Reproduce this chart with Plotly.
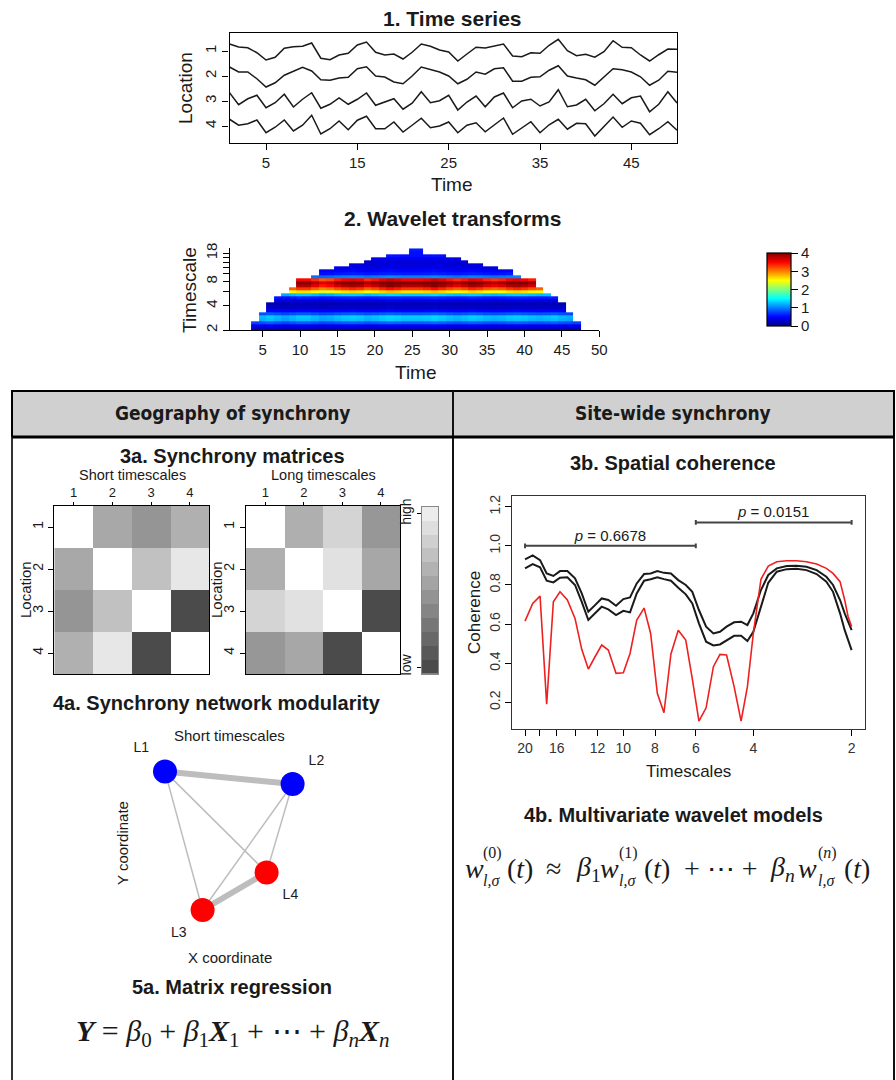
import math
import plotly.graph_objects as go

W, H = 896, 1080
def P(x): return x / W
def Q(y): return 1 - y / H

# ---------------- data ----------------
time = list(range(1, 51))
locations = [1, 2, 3, 4]
s1 = [0.28,0.16,0.13,-0.07,-0.36,-0.25,0.11,0.17,0.19,0.32,-0.29,-0.35,-0.16,-0.09,0.24,0.36,-0.05,-0.16,-0.12,-0.32,
      -0.05,0.28,0.19,0.04,-0.04,-0.40,-0.12,0.15,0.12,0.21,0.28,-0.20,-0.23,-0.07,-0.09,0.23,0.47,0.01,-0.19,-0.13,
      -0.25,-0.03,0.41,0.15,0.13,-0.16,-0.40,-0.15,0.08,0.07]
s2 = [0.36,0.16,0.16,-0.11,-0.44,-0.27,0.03,0.20,0.35,0.20,-0.15,-0.17,-0.08,-0.05,0.29,0.37,0.00,-0.04,-0.24,-0.31,
      0.00,0.36,0.27,0.16,0.00,-0.31,-0.13,0.16,0.07,0.29,0.33,-0.21,-0.21,-0.05,-0.03,0.23,0.41,0.00,-0.08,-0.15,
      -0.37,-0.04,0.29,0.25,0.16,-0.03,-0.37,-0.17,0.19,0.15]
s3 = [0.33,-0.15,0.09,0.23,-0.27,-0.07,0.27,-0.24,0.07,0.33,-0.29,-0.13,0.12,-0.13,0.07,0.32,-0.17,-0.04,0.09,-0.33,
      -0.09,0.37,-0.07,0.01,0.23,-0.36,-0.04,0.20,-0.23,0.16,0.32,-0.27,0.00,0.07,-0.20,-0.04,0.45,-0.23,-0.16,0.07,
      -0.39,-0.11,0.27,-0.11,0.13,0.20,-0.43,-0.13,0.37,-0.08]
s4 = [0.27,0.03,0.09,0.24,-0.27,-0.05,0.24,-0.20,0.03,0.43,-0.32,-0.11,0.20,-0.15,0.23,0.39,-0.11,-0.11,0.16,-0.24,
      0.03,0.31,-0.07,0.00,0.16,-0.27,0.03,0.13,-0.23,0.05,0.32,-0.33,-0.08,0.17,-0.27,0.05,0.27,-0.13,0.11,0.09,
      -0.40,0.00,0.36,-0.05,0.20,0.11,-0.35,-0.11,0.17,-0.17]
series = [s1, s2, s3, s4]

# wavelet transform
ts_edges = [2.00,2.18,2.38,2.59,2.83,3.08,3.36,3.67,4.00,4.36,4.76,5.19,5.66,6.17,6.73,7.34,8.00,8.72,9.51,
            10.37,11.31,12.34,13.45,14.67,16.00,17.45,19.03,20.75]
power_profile = [0.25,0.45,0.85,1.25,1.3,0.85,0.5,0.3,0.2,0.4,0.6,1.3,2.6,3.3,3.8,4.0,3.5,1.0,0.6,
                 0.5,0.4,0.35,0.35,0.45,0.55,0.55,0.6]
time_mod = [1.0,1.0,1.0,0.9,0.95,1.0,0.95,0.9,0.95,1.0,1.0,0.95,0.9,0.92,0.97,1.0,1.02,1.0,0.95,0.98,
            1.02,1.05,1.03,1.0,1.0,1.0,1.02,1.05,1.02,0.98,0.95,0.98,1.02,1.0,0.96,0.94,0.96,1.0,1.02,1.0,
            0.97,0.95,0.97,1.0,0.95,0.92,0.9,1.0,1.0,1.0]
coi_top = [0,0,0,2.5,3.3,4.2,5.2,5.8,6.8,8.4,8.6,9.4,11.4,11.8,12.2,12.8,13.4,14.0,14.6,15.4,16.0,16.8,17.5,18.2,
           20.5,20.5,18.2,17.5,16.8,16.0,15.4,14.6,14.0,13.4,12.8,12.2,11.8,11.4,9.4,8.6,8.4,6.8,5.8,5.2,4.2,3.3,2.5,0,0,0]
scale_labels = [2, 4, 8, 18]
scale_minor = [6, 10, 12, 14, 16]

# synchrony matrices (0 = low, 1 = high; diagonal blank)
sync_short = [[None,0.58,0.46,0.63],[0.58,None,0.73,0.97],[0.46,0.73,None,0.0],[0.63,0.97,0.0,None]]
sync_long = [[None,0.62,0.85,0.47],[0.62,None,0.93,0.57],[0.85,0.93,None,0.0],[0.47,0.57,0.0,None]]
gray_levels = [0.0,0.09,0.18,0.27,0.36,0.45,0.55,0.64,0.73,0.82,0.91,1.0]

# network
node_names = ["L1", "L2", "L3", "L4"]
node_x = [1.75, 8.13, 3.63, 6.83]
node_y = [8.67, 8.05, 1.75, 3.63]
node_module = [1, 1, 2, 2]
edges = [(0,1),(0,2),(0,3),(1,2),(1,3),(2,3)]
edge_weight = [1.0, 0.1, 0.1, 0.1, 0.1, 1.0]

# spatial coherence
coh_ts = [20.00,18.95,17.99,17.17,16.38,15.63,14.84,14.06,13.41,12.80,12.21,11.65,11.12,10.53,10.00,9.54,9.10,
          8.64,8.25,7.87,7.51,7.15,6.79,6.44,6.15,5.87,5.58,5.30,5.06,4.83,4.58,4.36,4.17,4.00,3.79,3.60,3.39,
          3.16,2.95,2.75,2.56,2.39,2.28,2.17,2.10,2.05,2.00]
coh_red = [0.615,0.706,0.743,0.19,0.714,0.765,0.723,0.629,0.471,0.370,0.433,0.493,0.467,0.348,0.351,0.450,0.621,
           0.682,0.552,0.246,0.147,0.447,0.569,0.518,0.32,0.104,0.172,0.382,0.445,0.442,0.280,0.104,0.280,0.552,
           0.829,0.897,0.919,0.924,0.924,0.919,0.907,0.885,0.859,0.817,0.723,0.638,0.587]
coh_upper = [0.931,0.951,0.927,0.859,0.846,0.871,0.871,0.834,0.757,0.663,0.697,0.731,0.723,0.694,0.728,0.736,0.808,
             0.856,0.859,0.871,0.862,0.859,0.825,0.800,0.765,0.672,0.587,0.552,0.561,0.587,0.609,0.612,0.595,0.655,
             0.774,0.851,0.885,0.897,0.898,0.893,0.876,0.842,0.800,0.723,0.655,0.612,0.569]
coh_lower = [0.885,0.907,0.890,0.822,0.813,0.837,0.839,0.800,0.714,0.621,0.655,0.689,0.675,0.646,0.668,0.660,0.757,
             0.822,0.829,0.839,0.830,0.822,0.786,0.752,0.706,0.604,0.510,0.491,0.496,0.518,0.540,0.540,0.513,0.561,
             0.689,0.811,0.868,0.881,0.883,0.876,0.856,0.817,0.765,0.655,0.569,0.518,0.467]
coh_tick_labels = [20, 16, 12, 10, 8, 6, 4, 2]
coh_tick_minor = [18, 14]
band_ranges = [(20, 6), (6, 2)]
band_y = [1.0, 1.12]
band_p = ["0.6678", "0.0151"]

# ---------------- figure ----------------
SANS = "Liberation Sans, Arial, sans-serif"
NARROW = "Liberation Sans Narrow, Arial Narrow, DejaVu Sans Condensed, sans-serif"
SERIF = "Liberation Serif, DejaVu Serif, serif"
INK = "#1a1a1a"

fig = go.Figure()

# 1. time series
for loc, s in zip(locations, series):
    fig.add_trace(go.Scatter(x=time, y=[loc - v for v in s], mode="lines",
                             line=dict(color=INK, width=1.5), xaxis="x", yaxis="y", hoverinfo="skip"))

# 2. wavelet transform
nrows = len(ts_edges) - 1
z = []
for r in range(nrows):
    centre = math.sqrt(ts_edges[r] * ts_edges[r + 1])
    z.append([power_profile[r] * time_mod[t] if centre <= coi_top[t] else None for t in range(len(time))])
jet_hex = ["#00007F", "#0000FF", "#007FFF", "#00FFFF", "#7FFF7F", "#FFFF00", "#FF7F00", "#FF0000", "#7F0000"]
jet = [[i / (len(jet_hex) - 1), c] for i, c in enumerate(jet_hex)]
fig.add_trace(go.Heatmap(x=time, y=ts_edges, z=z, colorscale=jet, zmin=0, zmax=4, xaxis="x2", yaxis="y2",
                         hoverinfo="skip",
                         colorbar=dict(x=P(767), xanchor="left", y=Q(289.5), yanchor="middle",
                                       len=73, lenmode="pixels", thickness=24, thicknessmode="pixels",
                                       outlinewidth=1.2, outlinecolor="black", tickvals=[0, 1, 2, 3, 4],
                                       ticks="outside", ticklen=7, tickcolor="black",
                                       tickfont=dict(size=15, color=INK, family=SANS), xpad=0, ypad=0)))

# 3a. synchrony matrices
grays = [[0, "#4b4b4b"], [1, "#ececec"]]
fig.add_trace(go.Heatmap(z=sync_short, x=locations, y=locations, coloraxis="coloraxis",
                         xaxis="x3", yaxis="y3", hoverinfo="skip"))
fig.add_trace(go.Heatmap(z=sync_long, x=locations, y=locations, coloraxis="coloraxis",
                         xaxis="x4", yaxis="y4", hoverinfo="skip"))
fig.add_trace(go.Heatmap(z=[[v] for v in gray_levels], x=[0], y=list(range(len(gray_levels))),
                         coloraxis="coloraxis", xaxis="x5", yaxis="y5", hoverinfo="skip"))

# 4a. network
for (a, b), w in zip(edges, edge_weight):
    fig.add_trace(go.Scatter(x=[node_x[a], node_x[b]], y=[node_y[a], node_y[b]], mode="lines",
                             line=dict(color="#bdbdbd", width=1 + 5 * w), xaxis="x6", yaxis="y6",
                             hoverinfo="skip"))
module_colors = {1: "#0000ff", 2: "#ff0000"}
fig.add_trace(go.Scatter(x=node_x, y=node_y, mode="markers+text", text=node_names, cliponaxis=False,
                         textposition=["top left", "top right", "bottom left", "bottom right"],
                         textfont=dict(size=14, color=INK, family=SANS),
                         marker=dict(size=24, color=[module_colors[m] for m in node_module], line=dict(width=0)),
                         xaxis="x6", yaxis="y6", hoverinfo="skip"))

# 3b. spatial coherence
fig.add_trace(go.Scatter(x=coh_ts, y=coh_lower, mode="lines", line=dict(color=INK, width=2),
                         xaxis="x7", yaxis="y7", hoverinfo="skip"))
fig.add_trace(go.Scatter(x=coh_ts, y=coh_upper, mode="lines", line=dict(color=INK, width=2),
                         xaxis="x7", yaxis="y7", hoverinfo="skip"))
fig.add_trace(go.Scatter(x=coh_ts, y=coh_red, mode="lines", line=dict(color="#ee2020", width=1.6),
                         xaxis="x7", yaxis="y7", hoverinfo="skip"))
for (a, b), yb, p in zip(band_ranges, band_y, band_p):
    fig.add_trace(go.Scatter(x=[a, b, None, a, a, None, b, b],
                             y=[yb, yb, None, yb - 0.012, yb + 0.012, None, yb - 0.012, yb + 0.012],
                             mode="lines", line=dict(color="#444", width=2), xaxis="x7", yaxis="y7", hoverinfo="skip"))
    fig.add_trace(go.Scatter(x=[math.sqrt(a * b)], y=[yb + 0.045], mode="text", text=["<i>p</i> = " + p],
                             textfont=dict(size=15, color=INK, family=SANS), xaxis="x7", yaxis="y7",
                             hoverinfo="skip", cliponaxis=False))

# ---------------- axes ----------------
def ax(**kw):
    base = dict(showgrid=False, zeroline=False, showline=True, linecolor="black", linewidth=1.3,
                ticks="outside", ticklen=6, tickcolor="black", tickwidth=1.2, automargin=False,
                tickfont=dict(size=15, color=INK, family=SANS))
    base.update(kw)
    return base

small = dict(size=13, color=INK, family=SANS)
layout = dict(
    width=W, height=H, margin=dict(l=0, r=0, t=0, b=0, pad=0, autoexpand=False), showlegend=False,
    paper_bgcolor="white", plot_bgcolor="white", font=dict(family=SANS, color=INK),
    coloraxis=dict(colorscale=grays, cmin=0, cmax=1, showscale=False),
    xaxis=ax(domain=[P(229.5), P(677)], range=[1, 50], tickvals=[5, 15, 25, 35, 45], mirror=True, anchor="y"),
    yaxis=ax(domain=[Q(143), Q(33)], range=[4.68, 0.28], tickvals=locations, tickangle=-90, mirror=True, anchor="x"),
    xaxis2=ax(domain=[P(230), P(599.3)], range=[0.63, 50], tickvals=list(range(5, 51, 5)), anchor="y2"),
    yaxis2=ax(domain=[Q(330), Q(248.3)], type="log", range=[math.log10(2), math.log10(20.75)],
              tickvals=scale_labels, ticktext=[str(v) for v in scale_labels], tickangle=-90, anchor="x2",
              minor=dict(tickvals=scale_minor, ticks="outside", ticklen=6, tickcolor="black", tickwidth=1.2)),
    xaxis3=ax(domain=[P(54.3), P(209.3)], range=[0.5, 4.5], side="top", tickvals=locations, mirror=True,
              anchor="y3", tickfont=small, ticklen=3),
    yaxis3=ax(domain=[Q(674), Q(506)], range=[4.5, 0.5], tickvals=locations, tickangle=-90, mirror=True,
              anchor="x3", tickfont=dict(size=14, color=INK, family=SANS), ticklen=5),
    xaxis4=ax(domain=[P(246), P(400)], range=[0.5, 4.5], side="top", tickvals=locations, mirror=True,
              anchor="y4", tickfont=small, ticklen=3),
    yaxis4=ax(domain=[Q(674), Q(506)], range=[4.5, 0.5], tickvals=locations, tickangle=-90, mirror=True,
              anchor="x4", tickfont=dict(size=14, color=INK, family=SANS), ticklen=5),
    xaxis5=ax(domain=[P(421.7), P(438.3)], range=[-0.5, 0.5], showticklabels=False, ticks="", mirror=True,
              linecolor="#888", anchor="y5"),
    yaxis5=ax(domain=[Q(674), Q(506.7)], range=[-0.5, len(gray_levels) - 0.5], tickvals=[0, len(gray_levels) - 1],
              ticktext=["low", "high"], tickangle=-90, mirror=True, linecolor="#888", anchor="x5",
              tickfont=dict(size=14, color=INK, family=SANS), ticklen=4),
    xaxis6=dict(domain=[P(130), P(330)], range=[0, 10], visible=False, anchor="y6"),
    yaxis6=dict(domain=[Q(945), Q(745)], range=[0, 10], visible=False, anchor="x6"),
    xaxis7=ax(domain=[P(512.3), P(865)], type="log", range=[math.log10(21.88), math.log10(1.82)],
              tickvals=coh_tick_labels, ticktext=[str(v) for v in coh_tick_labels], mirror=True, anchor="y7",
              linecolor="#333", tickfont=dict(size=14, color="#333", family=SANS),
              minor=dict(tickvals=coh_tick_minor, ticks="outside", ticklen=6, tickcolor="black", tickwidth=1.2)),
    yaxis7=ax(domain=[Q(729.3), Q(496)], range=[0.062, 1.255], tickvals=[0.2, 0.4, 0.6, 0.8, 1.0, 1.2],
              ticktext=["0.2", "0.4", "0.6", "0.8", "1.0", "1.2"], tickangle=-90, mirror=True, anchor="x7",
              linecolor="#333", tickfont=dict(size=14, color="#333", family=SANS)),
)

# ---------------- text ----------------
anns = []
def A(text, x, y, size=15, angle=0, family=SANS, xanchor="center", color=INK):
    anns.append(dict(text=text, x=P(x), y=Q(y), xref="paper", yref="paper", showarrow=False,
                     xanchor=xanchor, yanchor="middle", textangle=angle,
                     font=dict(size=size, family=family, color=color)))

A("<b>1. Time series</b>", 452, 18, 21)
A("Time", 452, 185, 19)
A("Location", 185, 88, 19, -90)
A("<b>2. Wavelet transforms</b>", 452, 219, 21)
A("Time", 416, 372, 19)
A("Timescale", 189, 290, 19, -90)

A("<b>Geography of synchrony</b>", 232, 413, 19, family=NARROW)
A("<b>Site-wide synchrony</b>", 673, 413, 19, family=NARROW)

A("<b>3a. Synchrony matrices</b>", 232, 456, 20)
A("Short timescales", 132, 475, 14.5)
A("Long timescales", 323, 475, 14.5)
A("Location", 25, 590, 15, -90)
A("Location", 216, 590, 15, -90)

A("<b>4a. Synchrony network modularity</b>", 217, 703, 20)
A("Short timescales", 230, 735, 15)
A("Y coordinate", 122, 843, 15, -90)
A("X coordinate", 230, 957, 15)

A("<b>5a. Matrix regression</b>", 232, 987, 20)
A("<b><i>Y</i></b> = <i>β</i><sub>0</sub> + <i>β</i><sub>1</sub><b><i>X</i></b><sub>1</sub> + ⋯ + "
  "<i>β</i><sub><i>n</i></sub><b><i>X</i></b><sub><i>n</i></sub>", 232, 1033, 30, family=SERIF)

A("<b>3b. Spatial coherence</b>", 673, 463, 20)
A("Coherence", 475, 613, 17, -90)
A("Timescales", 688, 771, 17)

A("<b>4b. Multivariate wavelet models</b>", 673, 815, 20)
main_y, sup_y, sub_y = 868, 853, 880
eq_main = [("<i>w</i>", 463), ("(<i>t</i>)", 505), ("≈", 544), ("<i>β</i><sub>1</sub>", 574), ("<i>w</i>", 598),
           ("(<i>t</i>)", 642), ("+ ⋯ +", 682), ("<i>β</i><sub><i>n</i></sub>", 768), ("<i>w</i>", 796),
           ("(<i>t</i>)", 842)]
for txt, x in eq_main:
    A(txt, x, main_y, 28, family=SERIF, xanchor="left")
for sup, x in [("(0)", 481), ("(1)", 617), ("(<i>n</i>)", 816)]:
    A(sup, x, sup_y, 16, family=SERIF, xanchor="left")
    A("<i>l,σ</i>", x, sub_y, 16, family=SERIF, xanchor="left")

layout["annotations"] = anns

# table frame
shapes = [
    dict(type="rect", xref="paper", yref="paper", x0=P(12), x1=P(894), y0=Q(437), y1=Q(391),
         fillcolor="#d0d0d0", line=dict(color="black", width=2), layer="below"),
    dict(type="line", xref="paper", yref="paper", x0=P(12), x1=P(12), y0=Q(437), y1=Q(1080),
         line=dict(color="#333", width=2)),
    dict(type="line", xref="paper", yref="paper", x0=P(453), x1=P(453), y0=Q(391), y1=Q(1080),
         line=dict(color="#111", width=2)),
    dict(type="line", xref="paper", yref="paper", x0=P(894), x1=P(894), y0=Q(437), y1=Q(1080),
         line=dict(color="#111", width=2)),
    dict(type="line", xref="paper", yref="paper", x0=P(12), x1=P(894), y0=Q(437), y1=Q(437),
         line=dict(color="black", width=3)),
]
layout["shapes"] = shapes

fig.update_layout(**layout)
fig.write_html(
    "out.html",
    config={"displayModeBar": False},
    post_script=(
        "document.documentElement.style.margin='0';document.documentElement.style.padding='0';"
        "document.documentElement.style.overflow='hidden';"
        "document.body.style.margin='0';document.body.style.padding='0';document.body.style.overflow='hidden';"
        "var gd=document.getElementById('{plot_id}');gd.style.position='absolute';gd.style.left='0px';"
        "gd.style.top='0px';"
    ),
)
